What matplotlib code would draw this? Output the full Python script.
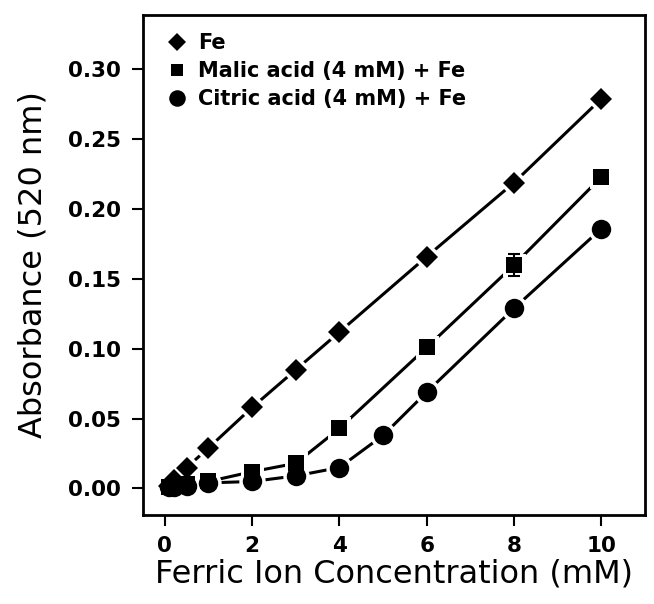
import matplotlib
matplotlib.use("Agg")
import matplotlib.pyplot as plt

# Data
fe_x = [0.1, 0.2, 0.5, 1, 2, 3, 4, 6, 8, 10]
fe_y = [0.002, 0.006, 0.015, 0.029, 0.058, 0.085, 0.112, 0.166, 0.219, 0.279]

malic_x = [0.1, 0.2, 0.5, 1, 2, 3, 4, 6, 8, 10]
malic_y = [0.001, 0.002, 0.003, 0.005, 0.012, 0.018, 0.043, 0.101, 0.160, 0.223]
malic_err = [0, 0, 0, 0, 0, 0, 0, 0, 0.008, 0]

citric_x = [0.1, 0.2, 0.5, 1, 2, 3, 4, 5, 6, 8, 10]
citric_y = [0.001, 0.001, 0.002, 0.004, 0.005, 0.009, 0.015, 0.038, 0.069, 0.129, 0.186]

labels = ["Fe", "Malic acid (4 mM) + Fe", "Citric acid (4 mM) + Fe"]
xticks = [0, 2, 4, 6, 8, 10]
yticks = [0.00, 0.05, 0.10, 0.15, 0.20, 0.25, 0.30]

fig = plt.figure(figsize=(6.54, 6.04), dpi=100)
ax = fig.add_axes([143/654, 1-515/604, (645-143)/654, (515-15)/604])

series = [
    (fe_x, fe_y, "D", 11),
    (malic_x, malic_y, "s", 11),
    (citric_x, citric_y, "o", 14),
]

# lines
for x, y, m, s in series:
    ax.plot(x, y, "-", color="black", lw=2.2, zorder=2)
# white halos to create gaps
for x, y, m, s in series:
    ax.plot(x, y, ls="none", marker=m, ms=s, mfc="white", mec="white", mew=5, zorder=3)
# error bar
ax.errorbar([malic_x[i] for i in range(len(malic_x)) if malic_err[i] > 0],
            [malic_y[i] for i in range(len(malic_x)) if malic_err[i] > 0],
            yerr=[e for e in malic_err if e > 0], fmt="none", ecolor="black",
            elinewidth=1.5, capsize=4, capthick=1.5, zorder=4)
# black markers
handles = []
for (x, y, m, s), lab in zip(series, labels):
    h, = ax.plot(x, y, ls="none", marker=m, ms=s, mfc="black", mec="black", mew=0, zorder=5, label=lab)
    handles.append(h)

ax.set_xlim(-0.5, 11)
ax.set_ylim(-0.019, 0.339)
ax.set_xticks(xticks)
ax.set_yticks(yticks)
ax.set_xticklabels([str(t) for t in xticks])
ax.set_yticklabels([f"{t:.2f}" for t in yticks])
ax.tick_params(direction="out", length=8, width=1.5, labelsize=15.5, pad=8)
ax.tick_params(axis="x", pad=7)
for lab in ax.get_xticklabels() + ax.get_yticklabels():
    lab.set_fontweight("bold")
for sp in ax.spines.values():
    sp.set_linewidth(2)

ax.set_xlabel("Ferric Ion Concentration (mM)", fontsize=23, labelpad=2)
ax.set_ylabel("Absorbance (520 nm)", fontsize=23, labelpad=14)

leg = ax.legend(handles=handles, loc="upper left", frameon=False, fontsize=15,
                handlelength=0.8, handletextpad=0.6, labelspacing=0.38,
                bbox_to_anchor=(0.035, 0.98), borderaxespad=0.0, markerscale=0.85)
for t in leg.get_texts():
    t.set_fontweight("bold")

fig.savefig("out.png", dpi=100)
